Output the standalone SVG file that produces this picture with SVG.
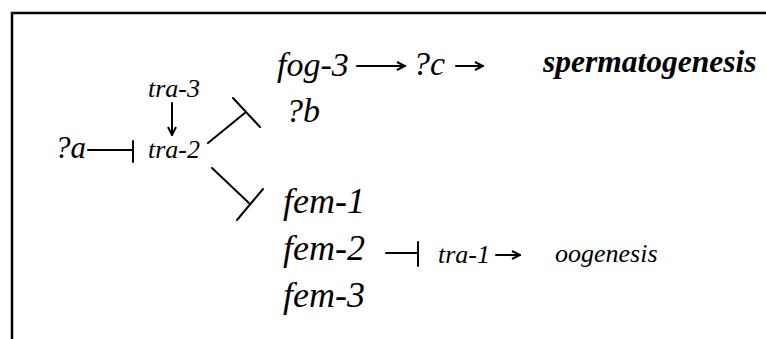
<svg xmlns="http://www.w3.org/2000/svg" width="766" height="339" viewBox="0 0 766 339">
<defs>
<style>
.t{font-family:"Liberation Serif","Times New Roman",serif;font-style:italic;fill:#000}
.big{font-size:36px}
.sm{font-size:26px}
.bold{font-weight:bold;font-size:31.5px}
.ln{stroke:#000;stroke-width:2;fill:none;stroke-linecap:round;stroke-linejoin:round}
</style>
<marker id="ah" viewBox="0 0 10 10" refX="9" refY="5" markerWidth="10" markerHeight="10" markerUnits="userSpaceOnUse" orient="auto">
<path d="M1,1 L9,5 L1,9" fill="none" stroke="#000" stroke-width="2"/>
</marker>
</defs>
<rect width="766" height="339" fill="#fff"/>
<g id="frame">
<path d="M12,339 L12,13 L766,13" fill="none" stroke="#000" stroke-width="2.5"/>
</g>
<g id="connectors">
<path class="ln" d="M88,150 L133,150 M133,141 L133,162"/>
<path class="ln" d="M172,103 L172,135" marker-end="url(#ah)"/>
<path class="ln" d="M208,143 L246,112 M233,98 L260,127"/>
<path class="ln" d="M212,168 L250,204 M237,220 L263,189"/>
<path class="ln" d="M357,66 L405,66" marker-end="url(#ah)"/>
<path class="ln" d="M456,66 L483,66" marker-end="url(#ah)"/>
<path class="ln" d="M386,253 L418,253 M418,242 L418,266"/>
<path class="ln" d="M496,255 L520,255" marker-end="url(#ah)"/>
</g>
<g id="n-qa"><text class="t" style="font-size:31px" x="55" y="158">?a</text></g>
<g id="n-tra3"><text class="t sm" x="148" y="97">tra-3</text></g>
<g id="n-tra2"><text class="t sm" x="148" y="158">tra-2</text></g>
<g id="n-fog3"><text class="t" style="font-size:34px" x="277" y="76">fog-3</text></g>
<g id="n-qc"><text class="t" style="font-size:34px" x="413" y="75">?c</text></g>
<g id="n-sperm"><text class="t bold" x="543" y="72">spermatogenesis</text></g>
<g id="n-qb"><text class="t" style="font-size:34px" x="286" y="122">?b</text></g>
<g id="n-fem1"><text class="t big" x="283" y="213">fem-1</text></g>
<g id="n-fem2"><text class="t big" x="283" y="260">fem-2</text></g>
<g id="n-fem3"><text class="t big" x="283" y="307">fem-3</text></g>
<g id="n-tra1"><text class="t sm" x="438" y="263">tra-1</text></g>
<g id="n-oog"><text class="t sm" x="555" y="262">oogenesis</text></g>
</svg>
